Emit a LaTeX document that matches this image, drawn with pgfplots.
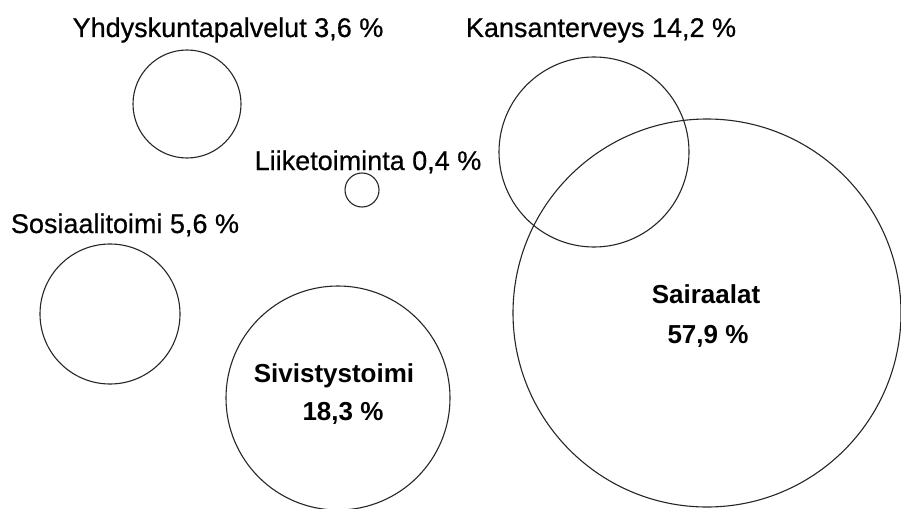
\documentclass[border=0pt]{standalone}
\usepackage{fontspec}
\setmainfont{Liberation Sans}
\newfontfamily\medfont[FakeBold=0.6]{Liberation Sans}
\usepackage{pgfplots}
\pgfplotsset{compat=1.18}
\begin{document}
\begin{tikzpicture}
\begin{axis}[
  width=901pt, height=508pt, scale only axis,
  xmin=0, xmax=901, ymin=0, ymax=508, y dir=reverse,
  hide axis, clip=true, clip marker paths=true,
]
\addplot[scatter, only marks, mark=o, line width=1.1pt,
  scatter/use mapped color={draw=black!85, fill=none},
  visualization depends on={\thisrow{r} \as \rad},
  scatter/@pre marker code/.append style={/tikz/mark size=\rad}]
  table[x=x, y=y] {
x   y   r
187 104 54
362 190 17
594 152 95
110 314 70
338 398 112
707 313 194
};
\node[anchor=base, font=\fontsize{27}{32}\medfont] at (axis cs:228,37) {Yhdyskuntapalvelut 3,6 \%};
\node[anchor=base, font=\fontsize{27}{32}\medfont] at (axis cs:601,37) {Kansanterveys 14,2 \%};
\node[anchor=base, font=\fontsize{27}{32}\medfont] at (axis cs:368,170) {Liiketoiminta 0,4 \%};
\node[anchor=base, font=\fontsize{27}{32}\medfont] at (axis cs:125,233) {Sosiaalitoimi 5,6 \%};
\node[anchor=base, font=\fontsize{26}{31}\selectfont\bfseries] at (axis cs:334,382) {Sivistystoimi};
\node[anchor=base, font=\fontsize{26}{31}\selectfont\bfseries] at (axis cs:343,420) {18,3 \%};
\node[anchor=base, font=\fontsize{26}{31}\selectfont\bfseries] at (axis cs:706,303) {Sairaalat};
\node[anchor=base, font=\fontsize{26}{31}\selectfont\bfseries] at (axis cs:708,343) {57,9 \%};
\end{axis}
\pgfresetboundingbox
\useasboundingbox (current axis.south west) rectangle (current axis.north east);
\end{tikzpicture}
\end{document}
